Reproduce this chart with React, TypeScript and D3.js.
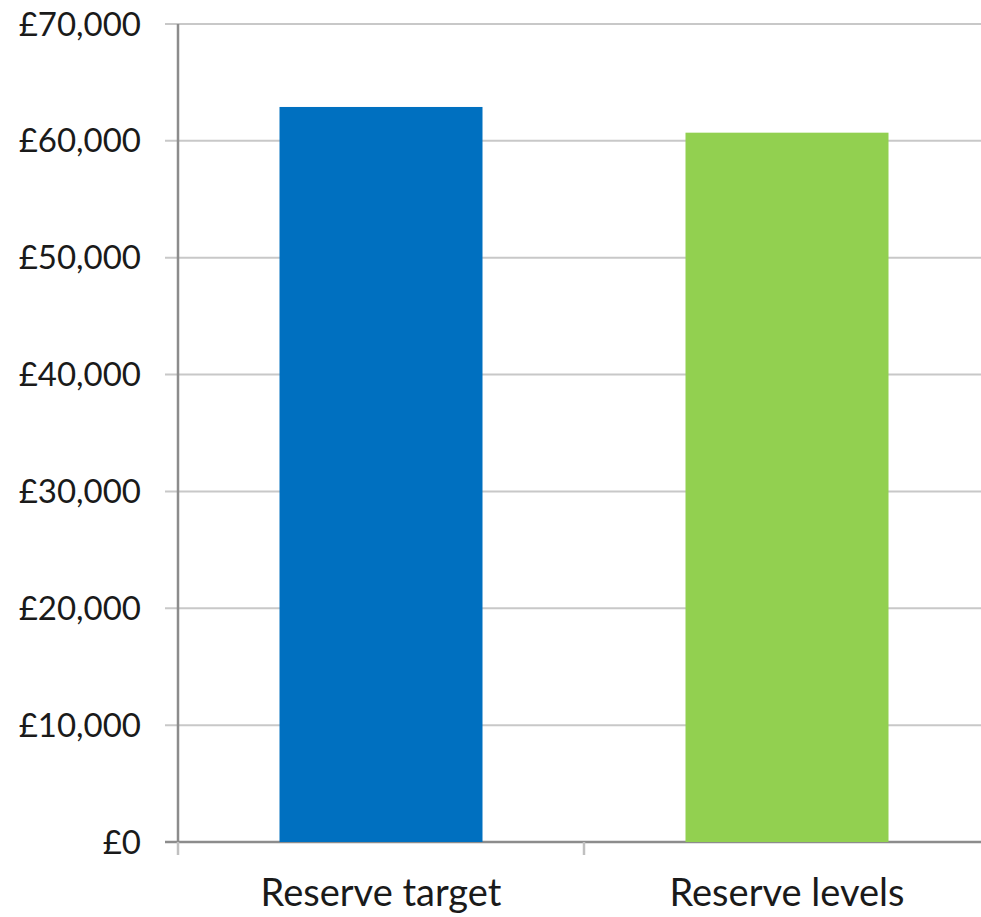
import React from "react";
import * as d3 from "d3";

const categories = ["Reserve target", "Reserve levels"];
const values = [62900, 60700];
const colors = ["#0070C0", "#92D050"];
const yTicks = [0, 10000, 20000, 30000, 40000, 50000, 60000, 70000];

export default function App() {
  const W = 981, H = 917;
  const left = 178, right = 990, top = 24, bottom = 842;
  const y = d3.scaleLinear().domain([0, 70000]).range([bottom, top]);
  const x = d3.scaleBand().domain(categories).range([left, right]).paddingInner(0.5).paddingOuter(0.25);
  const fmt = (v: number) => "£" + d3.format(",")(v);
  const font = "Lato, 'Open Sans', sans-serif";
  const tickXs = [left, left + x.step(), left + 2 * x.step()];
  return (
    <svg width={W} height={H} style={{ position: "absolute", left: 0, top: 0, background: "#fff" }}>
      {yTicks.map((t) => (
        <g key={t}>
          <line x1={165} x2={W} y1={y(t)} y2={y(t)} stroke={t === 0 ? "#8c8c8c" : "#c8c8c8"} strokeWidth={t === 0 ? 2.5 : 2} />
          <text x={141} y={y(t)} dy="0.35em" textAnchor="end" fontFamily={font} fontSize={33} fill="#1a1a1a">{fmt(t)}</text>
        </g>
      ))}
      {categories.map((c, i) => (
        <rect key={c} x={x(c)} y={y(values[i])} width={x.bandwidth()} height={bottom - y(values[i])} fill={colors[i]} />
      ))}
      <line x1={left} x2={left} y1={top} y2={bottom} stroke="#8c8c8c" strokeWidth={2.5} />
      {tickXs.map((tx, i) => (
        <line key={i} x1={tx} x2={tx} y1={bottom} y2={bottom + 13} stroke="#c0c0c0" strokeWidth={2.5} />
      ))}
      {categories.map((c) => (
        <text key={c} x={(x(c) as number) + x.bandwidth() / 2} y={906} textAnchor="middle" fontFamily={font} fontSize={38} fill="#1a1a1a">{c}</text>
      ))}
    </svg>
  );
}
